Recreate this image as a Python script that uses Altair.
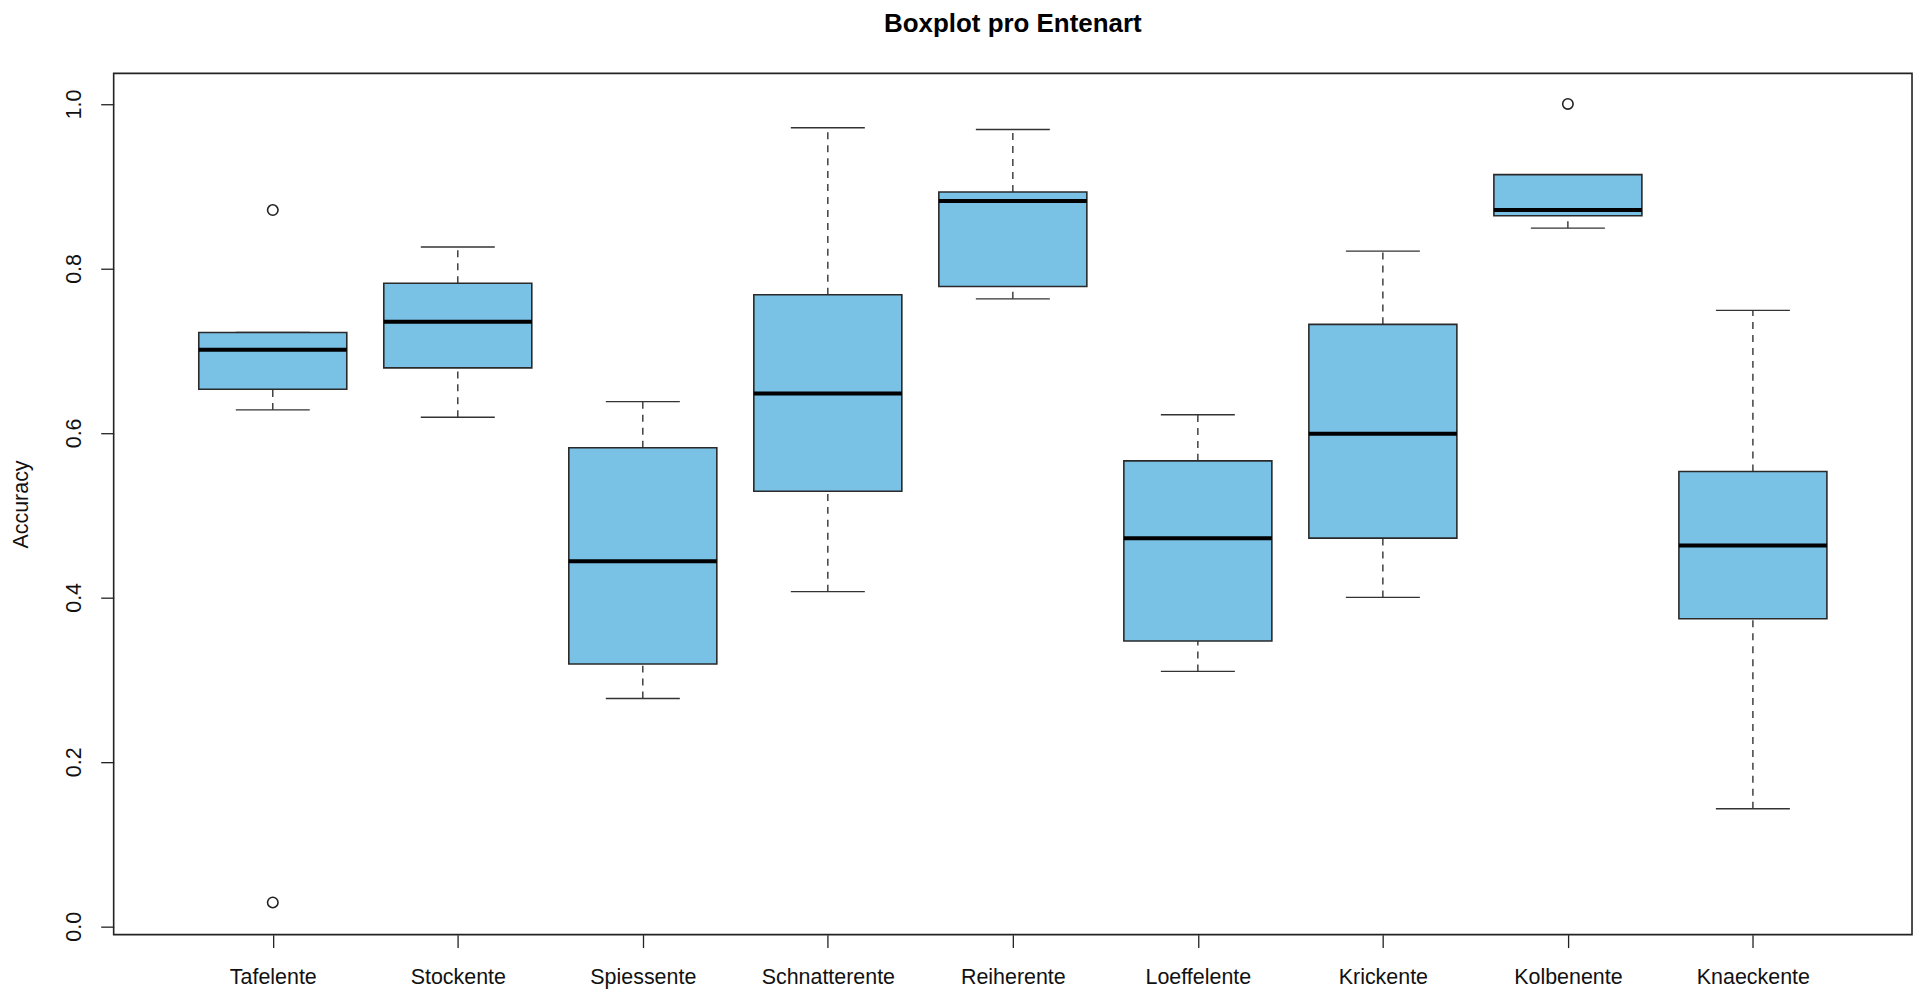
import altair as alt
import pandas as pd

species = ["Tafelente", "Stockente", "Spiessente", "Schnatterente", "Reiherente",
           "Loeffelente", "Krickente", "Kolbenente", "Knaeckente"]
lower = [0.628, 0.619, 0.277, 0.407, 0.763, 0.310, 0.400, 0.849, 0.143]
q1 = [0.653, 0.679, 0.319, 0.529, 0.778, 0.347, 0.472, 0.864, 0.374]
median = [0.701, 0.735, 0.444, 0.648, 0.882, 0.472, 0.599, 0.871, 0.463]
q3 = [0.722, 0.782, 0.582, 0.768, 0.893, 0.566, 0.732, 0.914, 0.553]
upper = [0.722, 0.826, 0.638, 0.971, 0.969, 0.622, 0.821, 0.914, 0.749]

outlier_species = ["Tafelente", "Tafelente", "Kolbenente"]
outlier_values = [0.871, 0.029, 1.0]

y_ticks = [0.0, 0.2, 0.4, 0.6, 0.8, 1.0]

stats = pd.DataFrame({
    "species": species,
    "pos": list(range(1, len(species) + 1)),
    "lower": lower, "q1": q1, "median": median, "q3": q3, "upper": upper,
})
outs = pd.DataFrame({
    "species": outlier_species,
    "pos": [species.index(s) + 1 for s in outlier_species],
    "value": outlier_values,
})

FONT = "Liberation Sans"
label_expr = "[" + ",".join("'" + s + "'" for s in species) + "][datum.value - 1]"

xscale = alt.Scale(domain=[0.14, 9.86], nice=False, zero=False)
yscale = alt.Scale(domain=[-0.0101, 1.0372], nice=False, zero=False)

xaxis = alt.Axis(values=list(range(1, len(species) + 1)), labelExpr=label_expr,
                 title=None, grid=False, domain=False, tickSize=13, tickColor="#222",
                 tickWidth=1.3, labelFont=FONT, labelFontSize=21.5, labelColor="#111",
                 labelPadding=19, labelBaseline="top", labelAngle=0)
yaxis = alt.Axis(values=y_ticks, format=".1f", title="Accuracy", grid=False, domain=False,
                 tickSize=13, tickColor="#222", tickWidth=1.3, labelFont=FONT,
                 labelFontSize=21.5, labelColor="#111", labelAngle=-90,
                 labelAlign="center", labelBaseline="middle", labelPadding=26,
                 titleFont=FONT, titleFontSize=21.5, titleFontWeight="normal",
                 titleColor="#111", titleAngle=-90, titleX=-92, titleY=432,
                 titleAlign="center", titleBaseline="middle")

base = alt.Chart(stats).transform_calculate(
    bl="datum.pos - 0.4", br="datum.pos + 0.4",
    cl="datum.pos - 0.2", cr="datum.pos + 0.2",
)

whisk_lo = base.mark_rule(strokeDash=[7, 6], color="#333", strokeWidth=1.4).encode(
    x=alt.X("pos:Q", scale=xscale, axis=xaxis),
    y=alt.Y("lower:Q", scale=yscale, axis=yaxis),
    y2="q1:Q",
)
whisk_hi = base.mark_rule(strokeDash=[7, 6], color="#333", strokeWidth=1.4).encode(
    x="pos:Q", y="q3:Q", y2="upper:Q",
)
cap_lo = base.mark_rule(color="#333", strokeWidth=1.4).encode(
    x="cl:Q", x2="cr:Q", y="lower:Q",
)
cap_hi = base.mark_rule(color="#333", strokeWidth=1.4).encode(
    x="cl:Q", x2="cr:Q", y="upper:Q",
)
boxes = base.mark_bar(fill="#79C1E5", stroke="#2a2a2a", strokeWidth=1.6).encode(
    x="bl:Q", x2="br:Q", y="q1:Q", y2="q3:Q",
)
med = base.mark_rule(color="#000", strokeWidth=4).encode(
    x="bl:Q", x2="br:Q", y="median:Q",
)
pts = alt.Chart(outs).mark_point(shape="circle", filled=False, size=110,
                                 color="#222", strokeWidth=1.6, opacity=1).encode(
    x="pos:Q", y="value:Q",
)

chart = alt.layer(whisk_lo, whisk_hi, cap_lo, cap_hi, boxes, med, pts).properties(
    width=1804, height=864,
    title=alt.TitleParams("Boxplot pro Entenart", font=FONT, fontSize=26,
                          fontWeight="bold", color="#000", anchor="middle",
                          frame="group", baseline="alphabetic", offset=15),
    autosize=alt.AutoSizeParams(type="none"),
    padding={"left": 106, "top": 64, "right": 4, "bottom": 55},
    background="white",
).configure_view(stroke="#222", strokeWidth=1.6)

chart.save("out.html", embed_options={"renderer": "svg", "actions": False})
